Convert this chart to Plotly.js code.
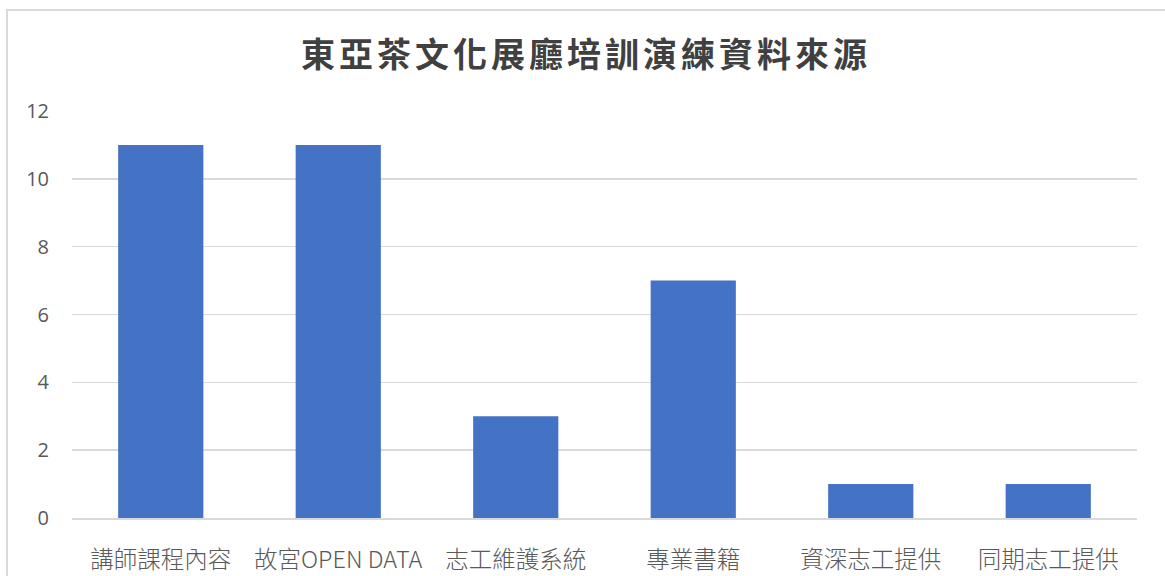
<!DOCTYPE html>
<html>
<head>
<meta charset="utf-8">
<script src="https://cdn.plot.ly/plotly-3.0.1.min.js"></script>
<style>
  html, body { margin: 0; padding: 0; background: #fff; }
  #chart { width: 1165px; height: 576px; position: relative; }
  #frame { position: absolute; left: 6px; top: 9px; width: 1300px; height: 700px;
           border: 2px solid #d9d9d9; pointer-events: none; box-sizing: border-box; }
  .gtitle { letter-spacing: 4px; }
</style>
</head>
<body>
<div id="chart"></div>
<div id="frame"></div>
<script>
const titleText = "東亞茶文化展廳培訓演練資料來源";
const categories = ["講師課程內容", "故宮OPEN DATA", "志工維護系統", "專業書籍", "資深志工提供", "同期志工提供"];
const values = [11, 11, 3, 7, 1, 1];
const yTicks = [0, 2, 4, 6, 8, 10, 12];

const trace = {
  type: "bar",
  x: categories,
  y: values,
  marker: { color: "#4472c4" },
  hoverinfo: "x+y"
};

const layout = {
  width: 1165,
  height: 576,
  margin: { l: 72, r: 28, t: 111, b: 58 },
  paper_bgcolor: "rgba(0,0,0,0)",
  plot_bgcolor: "#ffffff",
  bargap: 0.52,
  showlegend: false,
  title: {
    text: "<b>" + titleText + "</b>",
    x: 0.503,
    xanchor: "center",
    y: 0.905,
    yanchor: "middle",
    font: { family: "Noto Sans CJK TC", size: 34, color: "#404040" }
  },
  xaxis: {
    type: "category",
    showgrid: false,
    showline: true,
    linecolor: "#d9d9d9",
    linewidth: 1.5,
    ticks: "",
    tickfont: { family: "Noto Sans CJK TC, Open Sans", size: 23.5, color: "#595959", weight: 300 },
    ticklabelstandoff: 20
  },
  yaxis: {
    range: [0, 12],
    tickvals: yTicks,
    showgrid: true,
    gridcolor: "#d9d9d9",
    gridwidth: 1.5,
    zeroline: false,
    showline: false,
    ticks: "",
    tickfont: { family: "Open Sans", size: 20, color: "#595959" },
    ticklabelstandoff: 22
  }
};

Plotly.newPlot("chart", [trace], layout, { displayModeBar: false, staticPlot: true });
</script>
</body>
</html>
